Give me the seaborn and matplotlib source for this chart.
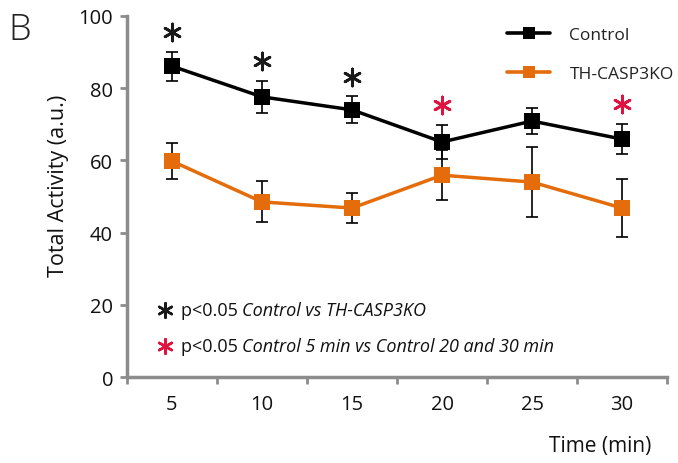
import matplotlib
matplotlib.use("Agg")
import matplotlib.pyplot as plt
import seaborn as sns
import pandas as pd
import numpy as np
from matplotlib.lines import Line2D

times = [5, 10, 15, 20, 25, 30]
control = [86.1, 77.6, 74.0, 65.1, 70.9, 65.9]
control_err = [4.0, 4.5, 3.7, 4.8, 3.5, 4.2]
ko = [59.8, 48.5, 46.8, 55.9, 54.0, 46.8]
ko_err = [5.0, 5.7, 4.2, 7.0, 9.8, 8.0]
black_star = [True, True, True, False, False, False]
red_star = [False, False, False, True, False, True]

sns.set_theme(style="white")
plt.rcParams['font.family'] = ['Open Sans', 'DejaVu Sans']

BLACK = "#000000"
ORANGE = "#E46C0A"
RED = "#E0123F"
GRAY = "#8C8C8C"
TXT = "#111111"

pos = np.arange(len(times))
df = pd.DataFrame({
    "pos": np.concatenate([pos, pos]),
    "value": control + ko,
    "group": ["Control"] * len(times) + ["TH-CASP3KO"] * len(times),
})

fig = plt.figure(figsize=(6.78, 4.64), dpi=100)
ax = fig.add_axes([0.1873, 0.1853, 0.7965, 0.7781])

for vals, errs in [(control, control_err), (ko, ko_err)]:
    ax.errorbar(pos, vals, yerr=errs, fmt="none", ecolor="black",
                elinewidth=1.2, capsize=4.5, capthick=1.2, zorder=2)

sns.lineplot(data=df, x="pos", y="value", hue="group",
             palette={"Control": BLACK, "TH-CASP3KO": ORANGE},
             marker="s", markersize=11.5, markeredgewidth=0,
             linewidth=2.5, ax=ax, legend=False, zorder=3)

# significance asterisks above control error bars
top = np.array(control) + np.array(control_err) + 5.5
for i in range(len(times)):
    if black_star[i]:
        ax.scatter(pos[i], top[i], marker=(6, 2, 0), s=150, color="#1a1a1a",
                   linewidths=2.0, zorder=4)
    if red_star[i]:
        ax.scatter(pos[i], top[i], marker=(6, 2, 0), s=150, color=RED,
                   linewidths=2.0, zorder=4)

ax.set_xlim(-0.5, len(times) - 0.5)
ax.set_ylim(0, 100)
ax.set_xticks(pos)
ax.set_xticklabels([str(t) for t in times])
ax.set_xticks(np.arange(-0.5, len(times), 1.0), minor=True)
ax.set_yticks([0, 20, 40, 60, 80, 100])
ax.tick_params(axis="x", which="major", length=0, pad=12, labelsize=14.5, labelcolor=TXT)
ax.tick_params(axis="x", which="minor", length=5, width=2, color=GRAY, direction="out")
ax.tick_params(axis="y", which="major", length=5, width=2, color=GRAY, direction="out",
               labelsize=14.5, labelcolor=TXT, pad=5)
ax.xaxis.set_tick_params(bottom=True, which="both")
ax.yaxis.set_tick_params(left=True)

for s in ["top", "right"]:
    ax.spines[s].set_visible(False)
for s in ["left", "bottom"]:
    ax.spines[s].set_color(GRAY)
    ax.spines[s].set_linewidth(2.5)

ax.set_xlabel("")
ax.set_ylabel("Total Activity (a.u.)", fontsize=15.5, color=TXT)
ax.yaxis.set_label_coords(-0.107, 0.532)
fig.text(0.96, 0.026, "Time (min)", ha="right", va="baseline", fontsize=15, color=TXT)
fig.text(0.013, 0.914, "B", fontsize=26, fontweight="light", color="#222222")

handles = [
    Line2D([0], [0], color=BLACK, lw=2.6, marker="s", markersize=8, markeredgewidth=0),
    Line2D([0], [0], color=ORANGE, lw=2.6, marker="s", markersize=8, markeredgewidth=0),
]
leg = ax.legend(handles, ["Control", "TH-CASP3KO"], loc="upper left",
                bbox_to_anchor=(507 / 678, 1 - 28 / 464), bbox_transform=fig.transFigure,
                frameon=False, fontsize=12.5, borderpad=0, borderaxespad=0,
                labelspacing=1.3, handlelength=2.5, handletextpad=1.1)
for t in leg.get_texts():
    t.set_color("#222222")

# footnote legend
ax.scatter([0.07], [0.185], transform=ax.transAxes, marker=(6, 2, 0), s=110,
           color="#1a1a1a", linewidths=1.8, clip_on=False)
ax.scatter([0.07], [0.085], transform=ax.transAxes, marker=(6, 2, 0), s=110,
           color=RED, linewidths=1.8, clip_on=False)
notes = ["Control vs TH-CASP3KO", "Control 5 min vs Control 20 and 30 min"]
for yy, note in zip([0.185, 0.085], notes):
    t1 = ax.text(0.1, yy, "p<0.05 ", transform=ax.transAxes, fontsize=13,
                 va="center", color=TXT)
    ax.annotate(note, xy=(1, 0.5), xycoords=t1, va="center", ha="left",
                fontsize=13, style="italic", color=TXT)

fig.savefig("out.png", dpi=100)
